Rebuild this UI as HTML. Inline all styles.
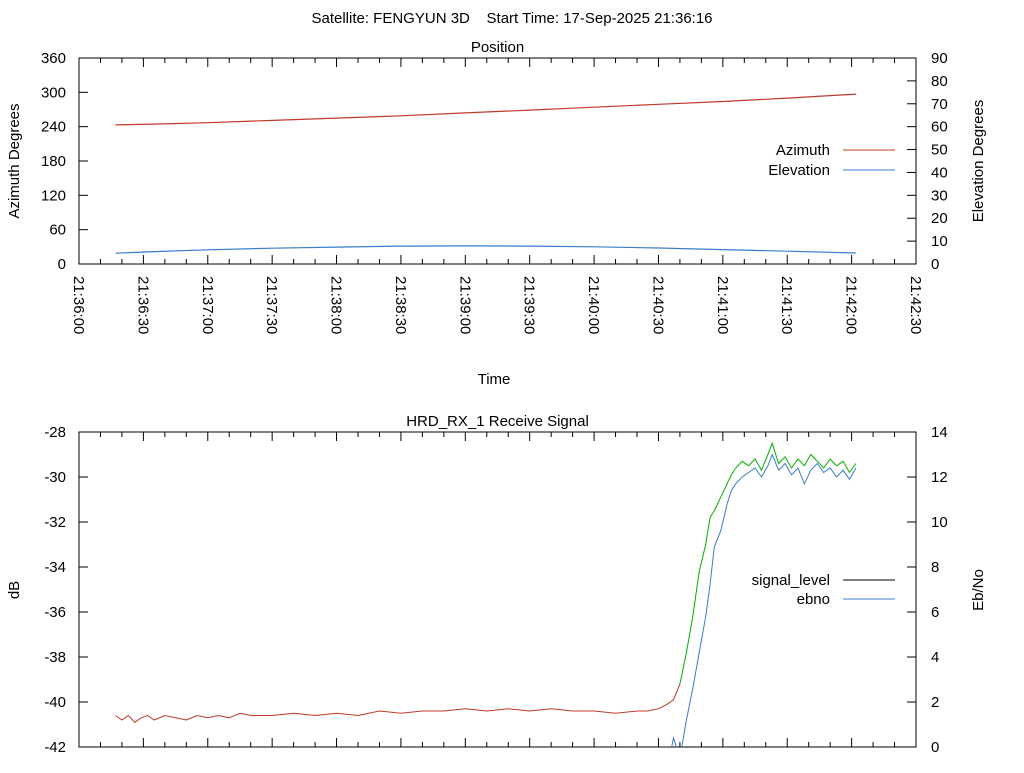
<!DOCTYPE html>
<html><head><meta charset="utf-8"><style>
body{margin:0;background:#fff;}
svg text{font-family:"Liberation Sans","DejaVu Sans",sans-serif;fill:#000;white-space:pre;}
</style></head><body>
<svg id="c" width="1024" height="768" xmlns="http://www.w3.org/2000/svg">
<rect width="1024" height="768" fill="#fff"/>
<defs><clipPath id="cp"><rect x="79" y="432" width="837" height="315"/></clipPath></defs>
<text x="512" y="23" font-size="15" text-anchor="middle" xml:space="preserve">Satellite: FENGYUN 3D    Start Time: 17-Sep-2025 21:36:16</text>
<g id="topPanel"></g><g id="botPanel"></g>
</svg>
<script>
// time in seconds after 21:36:00
const posTimes=[17,35,60,90,120,150,180,210,240,270,300,330,362];
const azimuth=[243,244.5,247,251,255,259,264,269,274,279,284,290,297];
const elevation=[4.7,5.4,6.2,6.9,7.4,7.8,7.9,7.8,7.5,7.0,6.3,5.6,4.8];
const xTickLabels=["21:36:00","21:36:30","21:37:00","21:37:30","21:38:00","21:38:30","21:39:00","21:39:30","21:40:00","21:40:30","21:41:00","21:41:30","21:42:00","21:42:30"];
const azTicks=[0,60,120,180,240,300,360];
const elTicks=[0,10,20,30,40,50,60,70,80,90];
const sigTimes=[17,20,23,26,29,32,35,40,45,50,55,60,65,70,75,80,90,100,110,120,130,140,150,160,170,180,190,200,210,220,230,240,250,260,265,270,274,277,280,283,286,289,292,294,296,299,302,304,306,309,312,315,318,321,323,326,329,332,335,338,341,344,347,350,353,356,359,362];
const signal=[-40.6,-40.8,-40.6,-40.9,-40.7,-40.6,-40.8,-40.6,-40.7,-40.8,-40.6,-40.7,-40.6,-40.7,-40.5,-40.6,-40.6,-40.5,-40.6,-40.5,-40.6,-40.4,-40.5,-40.4,-40.4,-40.3,-40.4,-40.3,-40.4,-40.3,-40.4,-40.4,-40.5,-40.4,-40.4,-40.3,-40.1,-39.9,-39.2,-37.8,-36.2,-34.2,-33.0,-31.8,-31.5,-30.9,-30.3,-29.9,-29.6,-29.3,-29.5,-29.2,-29.7,-29.0,-28.5,-29.4,-29.1,-29.6,-29.2,-29.5,-29.0,-29.3,-29.6,-29.2,-29.5,-29.3,-29.8,-29.4];
const ebTimes=[274,277,280,283,286,289,292,294,296,299,302,304,306,309,312,315,318,321,323,326,329,332,335,338,341,344,347,350,353,356,359,362];
const ebno=[-1,0.4,-0.5,1.2,2.6,4.2,5.8,7.2,8.9,9.6,10.8,11.4,11.7,12.0,12.2,12.4,12.0,12.5,13.0,12.3,12.6,12.1,12.4,11.7,12.3,12.6,12.2,12.4,12.0,12.3,11.9,12.4];
const dbTicks=[-42,-40,-38,-36,-34,-32,-30,-28];
const ebTicks=[0,2,4,6,8,10,12,14];

const NS="http://www.w3.org/2000/svg";
const L=79,R=916;
const X=t=>L+(t/390)*(R-L);
function mk(p,tag,a,txt){const e=document.createElementNS(NS,tag);for(const k in a)e.setAttribute(k,a[k]);if(txt!==undefined)e.textContent=txt;p.appendChild(e);return e;}
function path(pts){return pts.map((p,i)=>(i?"L":"M")+p[0].toFixed(1)+","+p[1].toFixed(1)).join("");}

function panel(g,T,B,title,lt,lmin,lmax,rt,rmin,rmax,showX){
  const Y=v=>B-(v-lmin)/(lmax-lmin)*(B-T), Y2=v=>B-(v-rmin)/(rmax-rmin)*(B-T);
  const fr=mk(g,"rect",{x:L,y:T,width:R-L,height:B-T,fill:"none",stroke:"#000","stroke-width":1});
  
  
  const tt=mk(g,"text",{x:(L+R)/2,y:T-6,"font-size":15,"text-anchor":"middle"},title);
  
  
  for(let s=0;s<=390;s+=10){const x=X(s),len=(s%30===0)?9:5;
    mk(g,"line",{x1:x,y1:B,x2:x,y2:B-len,stroke:"#000"});mk(g,"line",{x1:x,y1:T,x2:x,y2:T+len,stroke:"#000"});}
  if(showX)xTickLabels.forEach((s,i)=>{const x=X(i*30);const t=mk(g,"text",{transform:`translate(${x-5},${B+12}) rotate(90)`,"font-size":15},s);
    
    });
  lt.forEach(v=>{const y=Y(v);mk(g,"line",{x1:L,y1:y,x2:L+9,y2:y,stroke:"#000"});
    const t=mk(g,"text",{x:66,y:y+5,"font-size":15,"text-anchor":"end"},v);
    
    });
  rt.forEach(v=>{const y=Y2(v);mk(g,"line",{x1:R,y1:y,x2:R-9,y2:y,stroke:"#000"});
    const t=mk(g,"text",{x:931,y:y+5,"font-size":15},v);
    
    });
  return [Y,Y2];
}
function label(g,txt,x,y,rot,name){const t=mk(g,"text",{transform:`translate(${x},${y}) rotate(${rot})`,"font-size":15,"text-anchor":"middle"},txt);
  
  }
function legend(g,txt,y,col,name){const t=mk(g,"text",{x:830,y:y+5,"font-size":15,"text-anchor":"end"},txt);
  
  
  const l=mk(g,"line",{x1:843,y1:y,x2:895,y2:y,stroke:col});
  
  }

const topPanel=document.getElementById("topPanel");
const [Ya,Ye]=panel(topPanel,58,264,"Position",azTicks,0,360,elTicks,0,90,true);
label(topPanel,"Azimuth Degrees",19,161,-90,"y-axis-title-left");
label(topPanel,"Elevation Degrees",983,161,-90,"y-axis-title-right");
label(topPanel,"Time",494,384,0,"x-axis-title");
let p=mk(topPanel,"path",{d:path(posTimes.map((t,i)=>[X(t),Ya(azimuth[i])])),fill:"none",stroke:"#c0392b","stroke-width":1.2});


p=mk(topPanel,"path",{d:path(posTimes.map((t,i)=>[X(t),Ye(elevation[i])])),fill:"none",stroke:"#3a7dc9","stroke-width":1.2});


legend(topPanel,"Azimuth",150,"#c0392b","legend-azimuth");
legend(topPanel,"Elevation",170,"#3a7dc9","legend-elevation");

const botPanel=document.getElementById("botPanel");
const [Yd,Yb]=panel(botPanel,432,747,"HRD_RX_1 Receive Signal",dbTicks,-42,-28,ebTicks,0,14,false);
label(botPanel,"dB",19,590,-90,"y-axis-title-left-db");
label(botPanel,"Eb/No",983,590,-90,"y-axis-title-right-ebno");
const split=sigTimes.findIndex(t=>t>=280);
p=mk(botPanel,"path",{d:path(sigTimes.slice(0,split+1).map((t,i)=>[X(t),Yd(signal[i])])),fill:"none",stroke:"#c0392b","stroke-width":1});


p=mk(botPanel,"path",{d:path(ebTimes.map((t,i)=>[X(t),Yb(ebno[i])])),fill:"none",stroke:"#3a7dc9","stroke-width":1,"clip-path":"url(#cp)"});


p=mk(botPanel,"path",{d:path(sigTimes.slice(split).map((t,i)=>[X(t),Yd(signal[i+split])])),fill:"none",stroke:"#00b000","stroke-width":1});


legend(botPanel,"signal_level",580,"#000","legend-signal-level");
legend(botPanel,"ebno",599,"#3a7dc9","legend-ebno");
</script>
</body></html>
